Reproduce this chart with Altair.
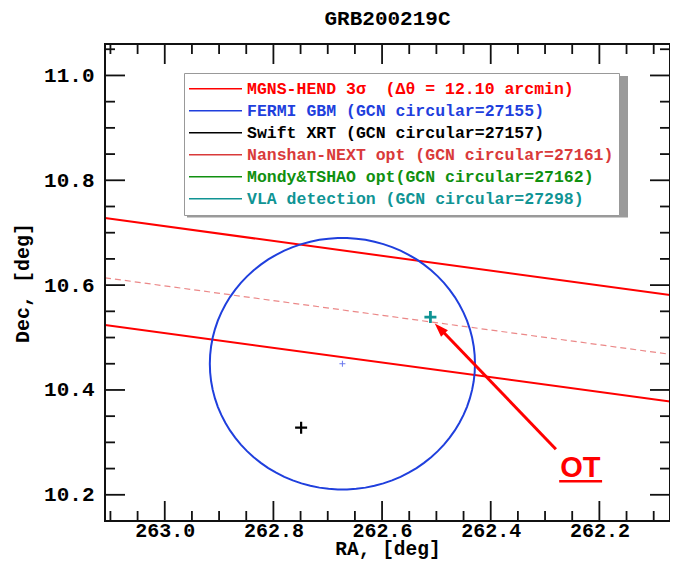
import altair as alt
import pandas as pd
import numpy as np

# ---------------- data ----------------
ra_domain = [263.11, 262.07]
dec_domain = [10.15, 11.06]
ra_major = [263.0, 262.8, 262.6, 262.4, 262.2]
ra_minor = [263.1, 263.05, 262.95, 262.9, 262.85, 262.75, 262.7, 262.65,
            262.55, 262.5, 262.45, 262.35, 262.3, 262.25, 262.15, 262.1]
dec_major = [10.2, 10.4, 10.6, 10.8, 11.0]
dec_minor = [10.15, 10.25, 10.3, 10.35, 10.45, 10.5, 10.55, 10.65, 10.7,
             10.75, 10.85, 10.9, 10.95, 11.05]

series = [
    "MGNS-HEND 3σ\u00a0\u00a0(Δθ = 12.10 arcmin)",
    "FERMI GBM (GCN circular=27155)",
    "Swift XRT (GCN circular=27157)",
    "Nanshan-NEXT opt (GCN circular=27161)",
    "Mondy&TSHAO opt(GCN circular=27162)",
    "VLA detection (GCN circular=27298)",
]
colors = ["#ff0000", "#1f3fdd", "#000000", "#d93a3a", "#109010", "#109494"]

band_ra = [263.11, 262.07]
mgns_upper = [10.728, 10.581]
mgns_lower = [10.524, 10.378]
nanshan_dec = [10.614, 10.468]
fermi_center = [262.673, 10.450]
fermi_radius = 0.24
swift_pos = [262.749, 10.328]
vla_pos = [262.511, 10.539]
arrow_tail = [262.280, 10.287]
arrow_end = [262.486, 10.509]
arrow_tip = [262.503, 10.527]
ot_pos = [262.235, 10.233]
ot_underline_ra = [262.274, 262.195]
ot_underline_dec = [10.2257]

# ---------------- tables ----------------
rows = []
for seg, decs in (("upper", mgns_upper), ("lower", mgns_lower)):
    for i, (r, d) in enumerate(zip(band_ra, decs)):
        rows.append({"series": series[0], "seg": seg, "ord": i, "ra": r, "dec": d})
t = np.radians(np.arange(0, 361, 4))
cosd = np.cos(np.radians(fermi_center[1]))
for i, tt in enumerate(t):
    rows.append({"series": series[1], "seg": "circle", "ord": i,
                 "ra": fermi_center[0] + fermi_radius * np.cos(tt) / cosd,
                 "dec": fermi_center[1] + fermi_radius * np.sin(tt)})
lines_df = pd.DataFrame(rows)
nanshan_df = pd.DataFrame({"ra": band_ra, "dec": nanshan_dec})

W, H = 565, 477
FONT = "Liberation Mono"

xaxis = alt.Axis(values=ra_major, format=".1f", ticks=False, domain=False, grid=False,
                 labelFont=FONT, labelFontWeight="bold", labelFontSize=20,
                 labelColor="black", labelPadding=-1, labelFlush=False,
                 titleFont=FONT, titleFontWeight="bold", titleFontSize=19.5,
                 titleColor="black", titleBaseline="alphabetic", titleY=33)
yaxis = alt.Axis(values=dec_major, format=".1f", ticks=False, domain=False, grid=False,
                 labelFont=FONT, labelFontWeight="bold", labelFontSize=21,
                 labelColor="black", labelPadding=11, labelFlush=False,
                 titleFont=FONT, titleFontWeight="bold", titleFontSize=20,
                 titleColor="black", titlePadding=11)


def X(field="ra"):
    return alt.X(f"{field}:Q", scale=alt.Scale(domain=ra_domain, nice=False, zero=False),
                 axis=xaxis, title="RA, [deg]")


def Y(field="dec"):
    return alt.Y(f"{field}:Q", scale=alt.Scale(domain=dec_domain, nice=False, zero=False),
                 axis=yaxis, title="Dec, [deg]")


def xticks(vals, length):
    df = pd.DataFrame({"ra": vals})
    top = alt.Chart(df).mark_rule(color="#111", strokeWidth=1.8).encode(
        x=X(), y=alt.value(0), y2=alt.value(length))
    bot = alt.Chart(df).mark_rule(color="#111", strokeWidth=1.8).encode(
        x=X(), y=alt.value(H), y2=alt.value(H - length))
    return [top, bot]


def yticks(vals, length):
    df = pd.DataFrame({"dec": vals})
    left = alt.Chart(df).mark_rule(color="#111", strokeWidth=1.8).encode(
        y=Y(), x=alt.value(0), x2=alt.value(length))
    right = alt.Chart(df).mark_rule(color="#111", strokeWidth=1.8).encode(
        y=Y(), x=alt.value(W), x2=alt.value(W - length))
    return [left, right]


legend = alt.Legend(
    title=None, orient="none", legendX=79, legendY=29,
    symbolType="stroke", symbolSize=2916, symbolStrokeWidth=1.5,
    clipHeight=21.5, rowPadding=0,
    labelFont=FONT, labelFontWeight="bold", labelFontSize=16.5,
    labelColor={"expr": "scale('color', datum.value)"},
    labelLimit=700, labelOffset=4, symbolOffset=-2,
    fillColor="white", strokeColor="#999999", padding=5,
)

lines = alt.Chart(lines_df).mark_line(strokeWidth=2, clip=True).encode(
    x=X(), y=Y(),
    color=alt.Color("series:N", scale=alt.Scale(domain=series, range=colors), legend=legend),
    detail="seg:N", order="ord:Q")

nanshan = alt.Chart(nanshan_df).mark_line(
    strokeWidth=1.2, strokeDash=[6, 4], color="#e46060", opacity=0.75, clip=True
).encode(x=X(), y=Y())

PLUS = "M-1,0L1,0M0,-1L0,1"
swift = alt.Chart(pd.DataFrame({"ra": [swift_pos[0]], "dec": [swift_pos[1]]})).mark_point(
    shape=PLUS, filled=False, size=144, strokeWidth=2.2, color="black", opacity=1
).encode(x=X(), y=Y())
vla = alt.Chart(pd.DataFrame({"ra": [vla_pos[0]], "dec": [vla_pos[1]]})).mark_point(
    shape=PLUS, filled=False, size=144, strokeWidth=2.8, color="#109494", opacity=1
).encode(x=X(), y=Y())
center = alt.Chart(pd.DataFrame({"ra": [fermi_center[0]], "dec": [fermi_center[1]]})).mark_point(
    shape=PLUS, filled=False, size=36, strokeWidth=1, color="#6a78ee", opacity=1
).encode(x=X(), y=Y())

shaft = alt.Chart(pd.DataFrame({"ra": [arrow_tail[0], arrow_end[0]],
                                "dec": [arrow_tail[1], arrow_end[1]]})).mark_line(
    color="#ff0000", strokeWidth=3).encode(x=X(), y=Y())
head = alt.Chart(pd.DataFrame({"ra": [arrow_tip[0]], "dec": [arrow_tip[1]]})).mark_point(
    shape="M0,0L0.34,1L-0.34,1Z", filled=True, size=784, angle=316,
    color="#ff0000", opacity=1).encode(x=X(), y=Y())

ot = alt.Chart(pd.DataFrame({"ra": [ot_pos[0]], "dec": [ot_pos[1]], "t": ["OT"]})).mark_text(
    font="Liberation Sans", fontWeight="bold", fontSize=29, color="#ff0000",
    align="center", baseline="alphabetic").encode(x=X(), y=Y(), text="t:N")
underline = alt.Chart(pd.DataFrame({"ra": [ot_underline_ra[0]], "ra2": [ot_underline_ra[1]],
                                    "dec": ot_underline_dec})).mark_rule(
    color="#ff0000", strokeWidth=2.6).encode(x=X(), x2="ra2:Q", y=Y())

shadow = alt.Chart(pd.DataFrame({"ra": [ra_major[0]]})).mark_rect(color="#9a9a9a").encode(
    x=alt.value(82), x2=alt.value(523), y=alt.value(32), y2=alt.value(173.5))

frame = alt.Chart(pd.DataFrame({"ra": [ra_major[0]]})).mark_rect(
    fill="transparent", stroke="#111", strokeWidth=2).encode(
    x=alt.value(0), x2=alt.value(W), y=alt.value(0), y2=alt.value(H))

layers = [shadow, lines, nanshan, center, swift, vla, shaft, head, ot, underline]
layers += xticks(ra_major, 20) + xticks(ra_minor, 10)
layers += yticks(dec_major, 20) + yticks(dec_minor, 10)
layers += [frame]

chart = alt.layer(*layers).properties(
    width=W, height=H,
    title=alt.Title("GRB200219C", font=FONT, fontWeight="bold", fontSize=21,
                    anchor="middle", offset=14, color="black"),
    autosize=alt.AutoSizeParams(type="none"),
    padding={"left": 97, "top": 36, "right": 0, "bottom": 40},
).configure_view(stroke="#111", strokeWidth=2).configure(background="white")

chart.save("out.html", embed_options={"renderer": "svg", "actions": False})
